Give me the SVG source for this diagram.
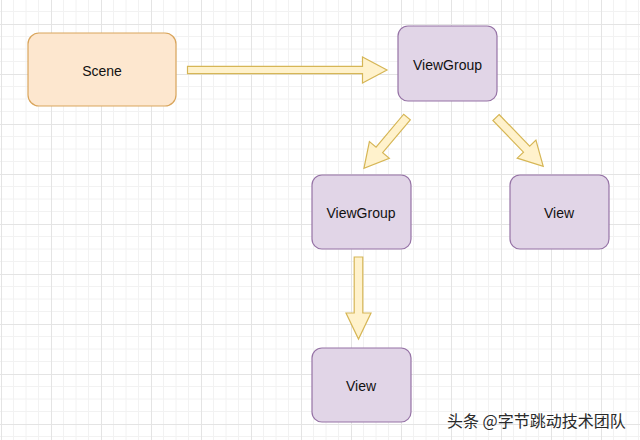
<svg xmlns="http://www.w3.org/2000/svg" width="640" height="440" viewBox="0 0 640 440">
<style>
.purple{fill:#e1d5e7;stroke:#9673a6;stroke-width:1.2}
.orange{fill:#fde7cf;stroke:#d9a55c;stroke-width:1.2}
.lbl{font-family:"Liberation Sans",Arial,sans-serif;font-size:14px;fill:#111;text-anchor:middle}
.arrow{fill:#fff2cc;stroke:#d6b656;stroke-width:1.2;stroke-linejoin:miter}
.wm{font-family:"Noto Sans CJK SC","Noto Sans",sans-serif;font-size:16px;fill:#2a2a2a}
</style>
<defs>
<pattern id="grid" patternUnits="userSpaceOnUse" x="1" y="24" width="50" height="50">
<path d="M12.5 0V50M25 0V50M37.5 0V50M0 12.5H50M0 25H50M0 37.5H50" stroke="#f2f2f2" stroke-width="1" fill="none"/>
<path d="M0.5 0V50M0 0.5H50" stroke="#e4e4e4" stroke-width="1" fill="none"/>
</pattern>
</defs>
<rect width="640" height="440" fill="#ffffff"/>
<rect width="640" height="440" fill="url(#grid)"/>
<g id="connectors">
<path class="arrow" transform="translate(187.5,70)" d="M0,-3.6H175V-13L199.5,0L175,13V3.6H0Z"/>
<path class="arrow" transform="translate(407,117) rotate(130)" d="M0,-4.3H43V-13L67,0L43,13V4.3H0Z"/>
<path class="arrow" transform="translate(496,117.5) rotate(46)" d="M0,-4.3H44V-13L68,0L44,13V4.3H0Z"/>
<path class="arrow" transform="translate(358.5,257) rotate(90)" d="M0,-4.3H56V-12.5L82,0L56,12.5V4.3H0Z"/>
</g>
<g id="scene"><rect class="orange" x="28" y="33" width="148" height="73" rx="11"/><text class="lbl" x="102" y="75.5">Scene</text></g>
<g id="viewgroup-top"><rect class="purple" x="398" y="26" width="99" height="75" rx="10"/><text class="lbl" x="447.5" y="69.5">ViewGroup</text></g>
<g id="viewgroup-mid"><rect class="purple" x="312" y="175" width="99" height="74" rx="10"/><text class="lbl" x="361" y="217.5">ViewGroup</text></g>
<g id="view-right"><rect class="purple" x="510" y="175" width="99" height="74" rx="10"/><text class="lbl" x="559" y="217.5">View</text></g>
<g id="view-bottom"><rect class="purple" x="312" y="348" width="99" height="74" rx="10"/><text class="lbl" x="361" y="390.5">View</text></g>
<text class="wm" x="447" y="427">头条 @字节跳动技术团队</text>
</svg>
